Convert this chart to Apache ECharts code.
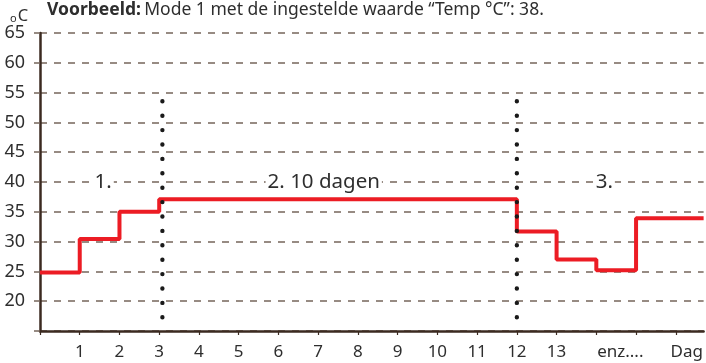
<!DOCTYPE html>
<html>
<head>
<meta charset="utf-8">
<script src="https://cdn.jsdelivr.net/npm/echarts@6/dist/echarts.min.js"></script>
<style>
  html, body { margin: 0; padding: 0; background: #fff; }
  #chart { width: 706px; height: 363px; }
</style>
</head>
<body>
<div id="chart"></div>
<script>
// Day axis tick labels (index = day position on the axis)
const dayLabels = ['', '1', '2', '3', '4', '5', '6', '7', '8', '9', '10', '11', '12', '13', 'enz....', '', 'Dag'];
// Temperature profile: day where each level starts, and the level (°C)
const stepDays = [0, 1, 2, 3, 12, 13, 14, 15, 16.7];
const stepTemps = [24.8, 30.45, 35.0, 37.1, 31.7, 27.0, 25.2, 33.9, 33.9];
// Phase separators (day) and their vertical extent (°C)
const phaseBounds = [3.08, 12.0];
const boundRange = [17.3, 53.66];
// Phase captions and where they sit
const phaseNames = ['1.', '2. 10 dagen', '3.'];
const phaseDays = [1.59, 7.14, 14.2];
const phaseTemp = 40;
// Temperature axis
const tempMin = 15, tempMax = 65, tempStep = 5;

const FONT = 'Noto Sans';
const TXT = '#2e2e2e';
const AXIS = '#3b2a20';
const GRIDC = '#76665b';

const chart = echarts.init(document.getElementById('chart'), null, { renderer: 'canvas' });

const series = [];
series.push({
  type: 'line',
  step: 'end',
  data: stepDays.map((d, i) => [d, stepTemps[i]]),
  symbol: 'none',
  lineStyle: { color: '#ec1c24', width: 4 },
  z: 3,
  silent: true
});
phaseBounds.forEach(d => {
  series.push({
    type: 'line',
    data: [[d, boundRange[0]], [d, boundRange[1]]],
    symbol: 'none',
    lineStyle: { color: '#1a1a1a', width: 4.4, type: [0, 14.4], cap: 'round' },
    z: 4,
    silent: true
  });
});
series.push({
  type: 'scatter',
  data: phaseNames.map((n, i) => ({ name: n, value: [phaseDays[i], phaseTemp] })),
  symbolSize: 0,
  itemStyle: { opacity: 1 },
  label: {
    show: true,
    position: 'inside',
    formatter: p => p.name,
    fontFamily: FONT,
    fontSize: 20.5,
    color: TXT,
    opacity: 1,
    backgroundColor: '#ffffff',
    padding: [0, 2]
  },
  z: 5,
  silent: true
});

chart.setOption({
  animation: false,
  grid: { left: 40, right: 0, top: 33, bottom: 32, containLabel: false },
  graphic: [
    {
      type: 'text',
      left: 10, top: 8,
      style: {
        text: '{o|o}{c|C}',
        rich: {
          o: { fontFamily: FONT, fontSize: 11, fill: TXT, padding: [5, 1, 0, 0] },
          c: { fontFamily: FONT, fontSize: 16.5, fill: TXT }
        }
      }
    },
    {
      type: 'text',
      left: 47, top: 1,
      style: {
        text: '{b|Voorbeeld:} {n|Mode 1 met de ingestelde waarde \u201cTemp \u00b0C\u201d: 38.}',
        rich: {
          b: { fontFamily: FONT, fontSize: 17.5, fontWeight: 'bold', fill: TXT },
          n: { fontFamily: FONT, fontSize: 17.5, fill: TXT }
        }
      }
    }
  ],
  xAxis: {
    type: 'value',
    min: 0, max: 16.7, interval: 1,
    axisLine: { show: true, onZero: false, lineStyle: { color: AXIS, width: 2.5 } },
    axisTick: { show: true, length: 4, lineStyle: { color: AXIS, width: 1.2 } },
    splitLine: { show: false },
    axisLabel: {
      margin: 13,
      fontFamily: FONT, fontSize: 17, color: TXT,
      showMaxLabel: false,
      formatter: v => {
        const i = Math.round(v);
        if (Math.abs(v - i) > 1e-6) return '';
        const s = dayLabels[i] || '';
        if (s === 'enz....') return '{e|' + s + '}';
        if (s === 'Dag') return '{d|' + s + '}';
        return s;
      },
      rich: {
        e: { fontFamily: FONT, fontSize: 17, color: TXT, padding: [0, 0, 0, 48] },
        d: { fontFamily: FONT, fontSize: 17, color: TXT, padding: [0, 0, 0, 22] }
      }
    }
  },
  yAxis: {
    type: 'value',
    min: tempMin, max: tempMax, interval: tempStep,
    axisLine: { show: true, onZero: false, lineStyle: { color: AXIS, width: 2.5 } },
    axisTick: { show: true, length: 6, lineStyle: { color: GRIDC, width: 1.5 } },
    splitLine: { show: true, lineStyle: { color: GRIDC, width: 1.5, type: [7, 7] } },
    axisLabel: {
      margin: 15,
      fontFamily: FONT, fontSize: 18, color: TXT,
      formatter: v => (v === tempMin ? '' : String(v))
    }
  },
  series: series
});
</script>
</body>
</html>
